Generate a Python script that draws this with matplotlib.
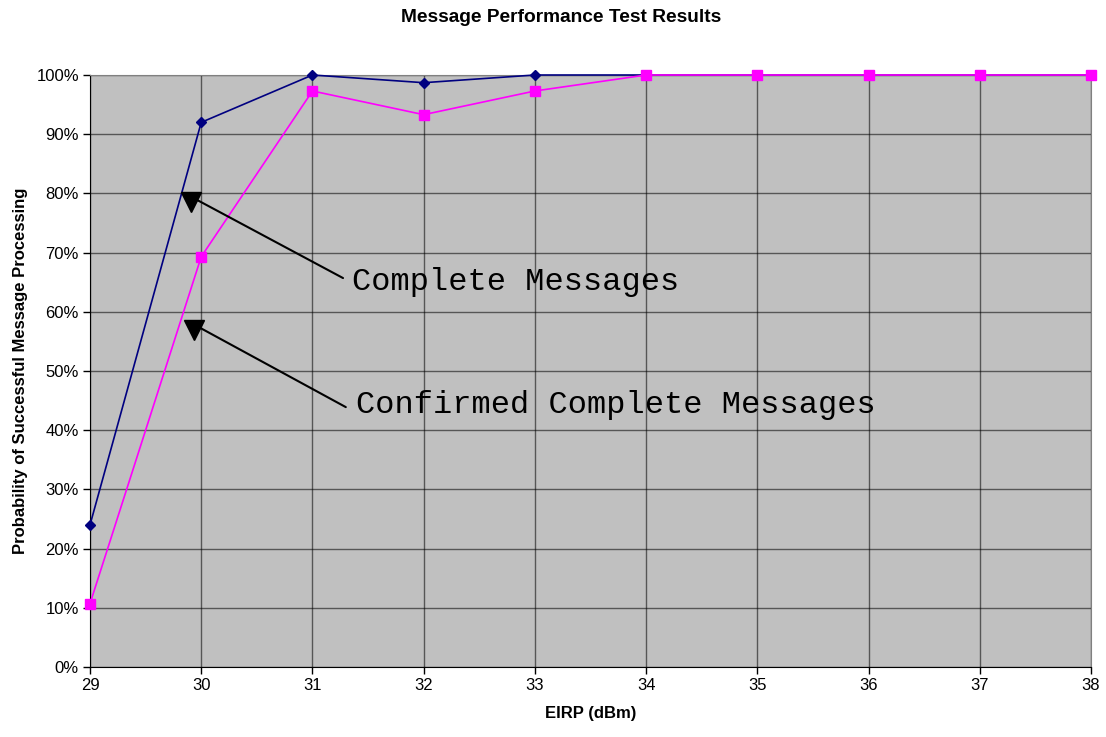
import matplotlib.pyplot as plt
from matplotlib.ticker import PercentFormatter

# data
eirp = [29, 30, 31, 32, 33, 34, 35, 36, 37, 38]
complete = [24.0, 92.0, 100.0, 98.7, 100.0, 100.0, 100.0, 100.0, 100.0, 100.0]
confirmed = [10.7, 69.3, 97.3, 93.3, 97.3, 100.0, 100.0, 100.0, 100.0, 100.0]

plt.rcParams['font.family'] = ['Liberation Sans', 'DejaVu Sans']

fig = plt.figure(figsize=(11.06, 7.37), dpi=100)
ax = fig.add_axes([90 / 1106, 70 / 737, 1001 / 1106, 592 / 737])
ax.set_facecolor('#c0c0c0')

ax.plot(eirp, complete, color='#000080', marker='D', markersize=5, linewidth=1.2, clip_on=False, zorder=3)
ax.plot(eirp, confirmed, color='#ff00ff', marker='s', markersize=7, linewidth=1.2, clip_on=False, zorder=3)

ax.set_xlim(29, 38)
ax.set_ylim(0, 100)
ax.set_xticks(eirp)
ax.set_yticks(range(0, 101, 10))
ax.yaxis.set_major_formatter(PercentFormatter(decimals=0))
ax.grid(True, color='black', linewidth=1, alpha=0.55)
ax.set_axisbelow(True)
for s in ['top', 'right']:
    ax.spines[s].set_color('#808080')
for s in ['left', 'bottom']:
    ax.spines[s].set_color('black')
ax.tick_params(direction='out', length=5, labelsize=12, width=1, pad=3)

# title sits centred on the figure, not the plot area
fig.text(561 / 1106, 1 - 17 / 737, 'Message Performance Test Results',
         fontsize=13.8, fontweight='bold', ha='center', va='center')
ax.set_xlabel('EIRP (dBm)', fontsize=12, fontweight='bold', labelpad=9)
ax.set_ylabel('Probability of Successful Message Processing', fontsize=12, fontweight='bold', labelpad=6)

# callout labels with arrows (Excel style: line + flat-topped triangle head)
line = dict(arrowstyle='-', color='black', lw=1.5, shrinkA=0, shrinkB=0)
ax.annotate('', xy=(29.962, 78.9), xytext=(31.275, 65.7), arrowprops=line)
ax.plot([29.91], [78.5], marker='v', markersize=14, color='black', zorder=4)
ax.text(31.356, 63.7, 'Complete Messages', fontsize=23, family='Liberation Mono', va='baseline', ha='left')

ax.annotate('', xy=(29.989, 57.3), xytext=(31.30, 43.9), arrowprops=line)
ax.plot([29.935], [56.9], marker='v', markersize=15, color='black', zorder=4)
ax.text(31.39, 42.85, 'Confirmed Complete Messages', fontsize=23, family='Liberation Mono', va='baseline', ha='left')

fig.savefig('out.png', dpi=100)
